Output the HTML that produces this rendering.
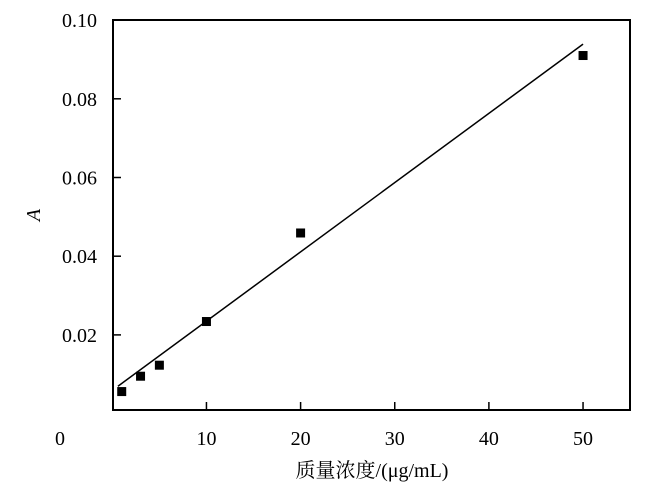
<!DOCTYPE html>
<html><head><meta charset="utf-8"><style>
body{margin:0;background:#fff}
svg text{font-family:"Liberation Serif","Noto Serif CJK SC",serif;font-size:20px;fill:#000}
</style></head><body>
<svg width="659" height="493" viewBox="0 0 659 493">
<g id="g"></g>
</svg>
<script>
const xVals=[1,3,5,10,20,50];
const yVals=[0.0056,0.0095,0.0123,0.0234,0.0459,0.0910];
const xTicks=[10,20,30,40,50];
const yTicks=[0.02,0.04,0.06,0.08,0.10];
const yTickLabels=["0.02","0.04","0.06","0.08","0.10"];
const fitSlope=0.00176;
const fitIntercept=0.0059;
const fitRange=[0.6,50];
const L=113,R=630,T=20,B=410;
const X=v=>112.3+v*9.415;
const Y=v=>413.6-v*3935;
const g=document.getElementById('g');
const NS='http://www.w3.org/2000/svg';
function mk(t,a,txt){const e=document.createElementNS(NS,t);for(const k in a)e.setAttribute(k,a[k]);if(txt!==undefined)e.textContent=txt;g.appendChild(e);return e;}
let e=mk('rect',{x:L,y:T,width:R-L,height:B-T,fill:'none',stroke:'#000','stroke-width':2});


xTicks.forEach(t=>{
 let l=mk('line',{x1:X(t),x2:X(t),y1:B,y2:B-8,stroke:'#000','stroke-width':1.5});
 
 
 let s=mk('text',{x:X(t),y:445,'text-anchor':'middle'},String(t));
 
 
});
yTicks.forEach((t,i)=>{
 let l=mk('line',{x1:L,x2:L+8,y1:Y(t),y2:Y(t),stroke:'#000','stroke-width':1.5});
 
 
 let s=mk('text',{x:97,y:Y(t)+7,'text-anchor':'end'},yTickLabels[i]);
 
 
});
let z=mk('text',{x:60,y:445,'text-anchor':'middle'},'0');


let fl=mk('line',{x1:X(fitRange[0]),y1:Y(fitIntercept+fitSlope*fitRange[0]),x2:X(fitRange[1]),y2:Y(fitIntercept+fitSlope*fitRange[1]),stroke:'#000','stroke-width':1.5});


xVals.forEach((x,i)=>{
 let r=mk('rect',{x:X(x)-4.5,y:Y(yVals[i])-4.5,width:9,height:9,fill:'#000'});
 
 
});
let xt=mk('text',{x:372,y:477,'text-anchor':'middle'},'质量浓度/(μg/mL)');


let yt=mk('text',{x:0,y:0,transform:'translate(40,215) rotate(-90)','text-anchor':'middle','font-style':'italic'},'A');


</script>
</body></html>
